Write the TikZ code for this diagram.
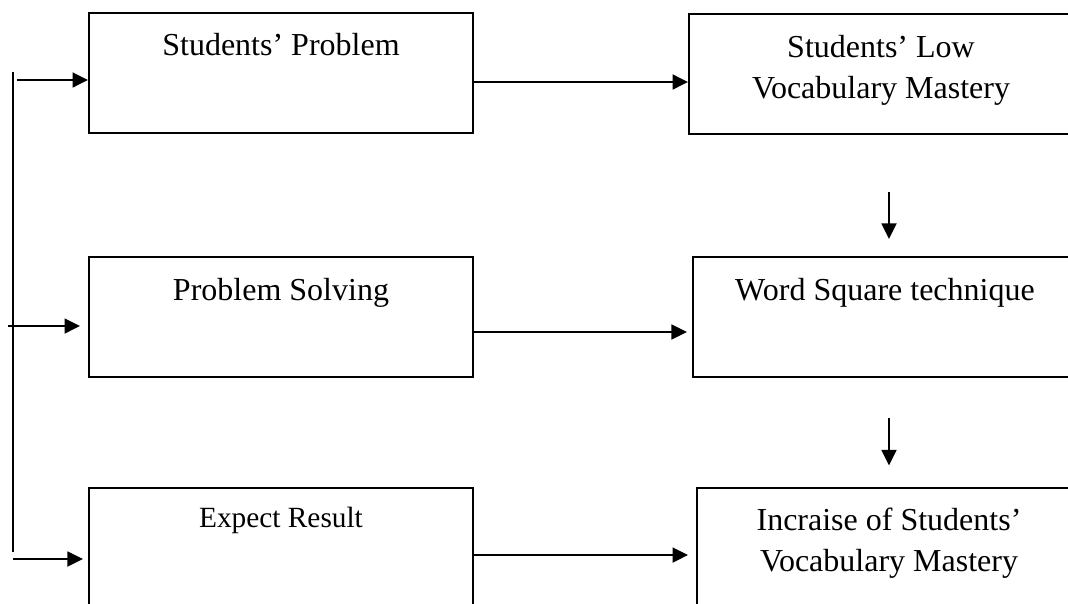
\documentclass[tikz,border=0pt]{standalone}
\usepackage{fontspec}
\setmainfont{Liberation Serif}
\usetikzlibrary{arrows.meta}
\begin{document}
\begin{tikzpicture}[x=0.375pt, y=-0.375pt, every node/.style={font=\fontsize{12}{15.4}\selectfont}]
\useasboundingbox (0,0) rectangle (1068,603);
\clip (0,0) rectangle (1068,603);
\tikzset{
    box/.style={draw, line width=0.75pt, minimum width=144pt, minimum height=45pt, inner sep=0pt},
    ttl/.style={anchor=north, inner sep=0pt, align=center, label distance=-8pt},
    arr/.style={line width=0.75pt, -{Triangle[length=5.8pt, width=5.6pt]}}
}
% --- riquadri ---
\node[box, label={[ttl]north:Students’ Problem}] (sp) at (281,72.5) {};
\node[box, label={[ttl]north:{Students’ Low\\Vocabulary Mastery}}] (lvm) at (881,74) {};
\node[box, label={[ttl]north:Problem Solving}] (ps) at (281,317) {};
\node[box, label={[ttl]north:Word Square technique}] (ws) at (885,317) {};
\node[box, label={[ttl, font=\fontsize{11}{13}\selectfont, label distance=-7.5pt]north:Expect Result}] (er) at (281,548) {};
\node[box, label={[ttl]north:{Incraise of Students’\\Vocabulary Mastery}}] (inc) at (889,547.5) {};
% --- frecce orizzontali ---
\coordinate (h1) at (0,82);
\coordinate (h2) at (0,332);
\coordinate (h3) at (0,555);
\draw[arr] (sp.east |- h1) -- (lvm.west |- h1);
\draw[arr, shorten >=1.9pt] (ps.east |- h2) -- (ws.west |- h2);
\draw[arr, shorten >=3pt] (er.east |- h3) -- (inc.west |- h3);
% --- frecce verticali ---
\coordinate (v1) at (889,192);
\coordinate (v2) at (889,418);
\draw[arr, shorten >=6.4pt] (v1) -- (v1 |- ws.north);
\draw[arr, shorten >=7.9pt] (v2) -- (v2 |- inc.north);
% --- parentesi a sinistra ---
\coordinate (ltop) at (13,72);
\coordinate (lbot) at (13,552);
\coordinate (a1) at (17,80);
\coordinate (a2) at (8,326);
\coordinate (a3) at (13,559);
\draw[line width=0.75pt] (ltop) -- (lbot);
\draw[arr] (a1) -- (sp.west |- a1);
\draw[arr, shorten >=3pt] (a2) -- (ps.west |- a2);
\draw[arr, shorten >=1.9pt] (a3) -- (er.west |- a3);
\end{tikzpicture}
\end{document}
